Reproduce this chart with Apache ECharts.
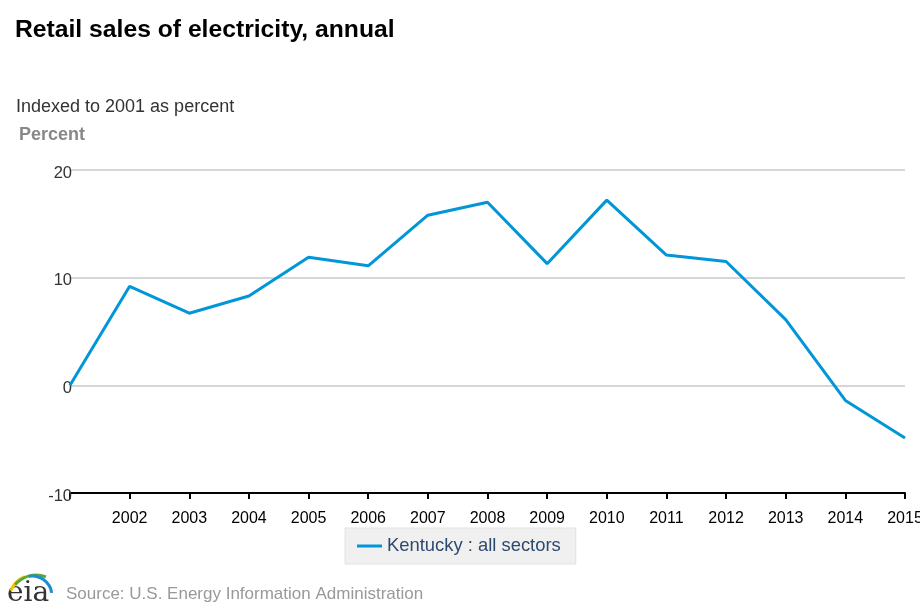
<!DOCTYPE html>
<html><head><meta charset="utf-8">
<script src="https://cdn.jsdelivr.net/npm/echarts@6/dist/echarts.min.js"></script>
<style>html,body{margin:0;padding:0;background:#fff}#c{width:920px;height:613px}</style>
</head><body><div id="c"></div>
<script>
const years = [2001,2002,2003,2004,2005,2006,2007,2008,2009,2010,2011,2012,2013,2014,2015];
const kentucky = [0,9.2,6.7,8.3,11.9,11.1,15.8,17.0,11.3,17.2,12.1,11.5,6.1,-1.4,-4.9];
const seriesName = 'Kentucky : all sectors';
const yTicks = [-10,0,10,20];

const FF = 'Liberation Sans, Arial, sans-serif';
const chart = echarts.init(document.getElementById('c'), null, {renderer:'canvas'});
chart.setOption({
  animation:false,
  title:[
    {text:'Retail sales of electricity, annual',left:10,top:13,textStyle:{fontFamily:FF,fontSize:24.7,fontWeight:'bold',color:'#000'}},
    {text:'Indexed to 2001 as percent',left:11,top:93,textStyle:{fontFamily:FF,fontSize:18,fontWeight:'normal',color:'#333'}},
    {text:'Percent',left:14,top:121,textStyle:{fontFamily:FF,fontSize:18,fontWeight:'bold',color:'#888'}},
    {text:'Source: U.S. Energy Information Administration',left:61,top:581,textStyle:{fontFamily:FF,fontSize:17,fontWeight:'normal',color:'#999'}}
  ],
  legend:{
    data:[seriesName],left:345,top:528,
    backgroundColor:'#f0f0f0',borderColor:'#e2e2e2',borderWidth:1,borderRadius:0,
    padding:[9,15,9,12],itemWidth:25,itemHeight:3,itemGap:12,
    icon:'rect',
    textStyle:{fontFamily:FF,fontSize:18.4,color:'#2c4a6e'}
  },
  grid:{left:70,right:15,top:170,bottom:120,containLabel:false,outerBoundsMode:'none'},
  xAxis:{
    type:'value',min:2001,max:2015,interval:1,
    axisLine:{show:true,onZero:false,lineStyle:{color:'#000',width:2}},
    axisTick:{show:true,length:6,lineStyle:{color:'#000',width:2}},
    axisLabel:{color:'#000',fontFamily:FF,fontSize:16,margin:18,
      formatter:v=> v===years[0] ? '' : String(v)},
    splitLine:{show:false}
  },
  yAxis:{
    type:'value',min:yTicks[0],max:yTicks[yTicks.length-1],interval:10,
    axisLine:{show:false},axisTick:{show:false},
    axisLabel:{color:'#333',fontFamily:FF,fontSize:16.5,margin:-2,verticalAlign:'top',lineHeight:6},
    splitLine:{show:true,lineStyle:{color:'#c8c8c8',width:1.5}}
  },
  series:[{
    name:seriesName,type:'line',
    data:years.map((y,i)=>[y,kentucky[i]]),
    showSymbol:false,symbol:'none',
    lineStyle:{color:'#0096d7',width:3},
    itemStyle:{color:'#0096d7'}
  }],
  graphic:[
    {type:'text',left:7,top:580,style:{text:'eia',font:'28px "DejaVu Serif", serif',fill:'#333'}},
    {type:'arc',shape:{cx:34,cy:600,r:25,startAngle:-Math.PI*0.88,endAngle:-Math.PI*0.62},style:{stroke:'#f5c400',lineWidth:3,fill:null}},
    {type:'arc',shape:{cx:36,cy:602,r:27,startAngle:-Math.PI*0.78,endAngle:-Math.PI*0.38},style:{stroke:'#5aa83c',lineWidth:3,fill:null}},
    {type:'arc',shape:{cx:32,cy:596,r:20,startAngle:-Math.PI*0.55,endAngle:-Math.PI*0.05},style:{stroke:'#1a8fd0',lineWidth:3,fill:null}}
  ]
});
</script></body></html>
